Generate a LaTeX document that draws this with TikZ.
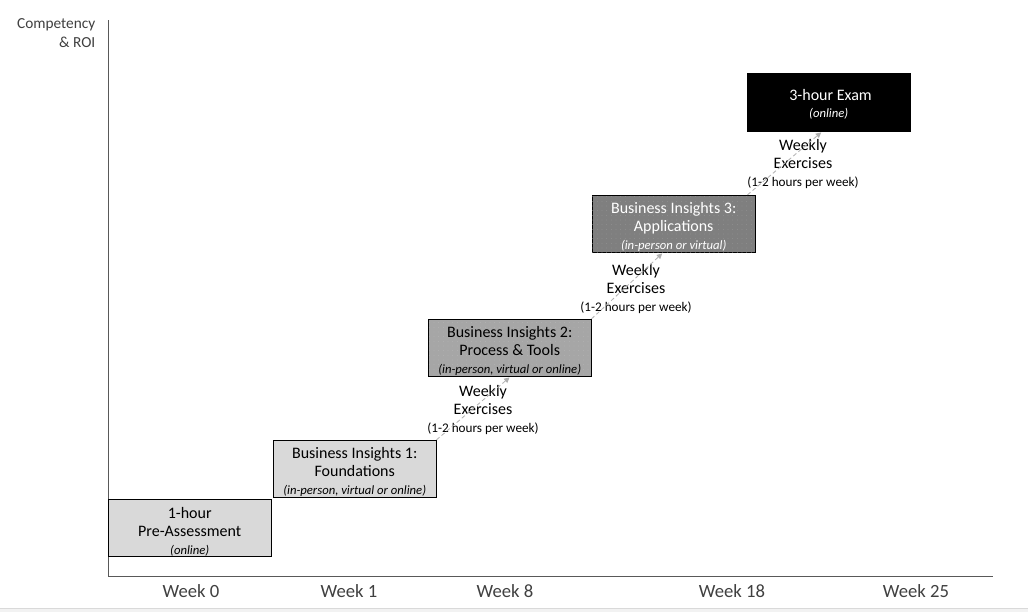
\documentclass[tikz,border=0pt]{standalone}
\usepackage{fontspec}
\setmainfont{Carlito}
\usetikzlibrary{arrows.meta,patterns.meta}

\definecolor{boxlight}{HTML}{D9D9D9}
\definecolor{boxmid}{HTML}{A6A6A6}
\definecolor{boxdark}{HTML}{7F7F7F}
\definecolor{axisgray}{HTML}{595959}
\definecolor{labelgray}{HTML}{404040}
\definecolor{arrowgray}{HTML}{B0B0B0}

\newcommand{\stagemode}[1]{{\fontsize{9.5}{13.5}\selectfont\itshape #1}}
\newcommand{\weekload}{{\fontsize{9.9}{13.5}\selectfont (1-2 hours per week)}}
\newcommand{\stagetop}[1][13.4pt]{\rule{0pt}{#1}}

\begin{document}
\begin{tikzpicture}[x=0.75pt, y=-0.75pt,
  stagebox/.style={draw=black, line width=0.6pt, minimum width=122pt,
    minimum height=43pt, anchor=south west, align=center, inner sep=0pt,
    font=\fontsize{12}{13.5}\selectfont},
  dotted fill/.style={postaction={pattern={Dots[distance=3.5pt,radius=0.3pt]},
    pattern color=#1}},
  exercise/.style={align=center, font=\fontsize{12}{13.5}\selectfont},
  weeklabel/.style={text=labelgray, font=\fontsize{14}{16}\selectfont},
  axis/.style={draw=axisgray, line width=0.75pt},
  exarrow/.style={draw=arrowgray, line width=0.6pt, dash pattern=on 3pt off 2pt,
    -{Triangle[length=4pt,width=4pt]}, shorten >=0.5pt}]
  \useasboundingbox (0,0) rectangle (1028,612);
  \fill[white] (0,0) rectangle (1028,612);
  % window edge
  \fill[gray!10] (0,608) rectangle (1028,612);
  \draw[gray!30, line width=0.75pt] (0,608) -- (1028,608);

  % axes
  \coordinate (ytop) at (108,20);
  \coordinate (origin) at (108,576);
  \coordinate (xend) at (993,576);
  \draw[axis] (ytop) -- (origin) -- (xend);
  \node[anchor=east, align=right, text=labelgray,
    font=\fontsize{11.5}{14.25}\selectfont] (ylabel) at (100,33) {Competency\\\& ROI};

  \node[weeklabel] (w0) at (191,591) {Week 0};
  \node[weeklabel] (w1) at (349,591) {Week 1};
  \node[weeklabel] (w8) at (505,591) {Week 8};
  \node[weeklabel] (w18) at (732,591) {Week 18};
  \node[weeklabel] (w25) at (916,591) {Week 25};

  % stages
  \node[stagebox, fill=boxlight] (b0) at (108,557)
    {\stagetop 1-hour\\Pre-Assessment\\\stagemode{(online)}};
  \node[stagebox, fill=boxlight] (b1) at (273,498)
    {\stagetop Business Insights 1:\\Foundations\\\stagemode{(in-person, virtual or online)}};
  \node[stagebox, fill=boxmid, dotted fill=boxmid!75!white] (b2) at (428,377)
    {\stagetop Business Insights 2:\\Process \& Tools\\\stagemode{(in-person, virtual or online)}};
  \node[stagebox, fill=boxdark, dotted fill=boxdark!75!white, text=white] (b3) at (592,253)
    {\stagetop Business Insights 3:\\Applications\\\stagemode{(in-person or virtual)}};
  \node[stagebox, fill=black, text=white, minimum height=44pt] (b4) at (747,132)
    {\stagetop[11.5pt] 3-hour Exam\\[-1pt]\stagemode{(online)}};

  % weekly exercises
  \node[exercise] (ex1) at (483,410) {Weekly\\Exercises\\\weekload};
  \node[exercise] (ex2) at (636,289) {Weekly\\Exercises\\\weekload};
  \node[exercise] (ex3) at (803,164) {Weekly\\Exercises\\\weekload};

  \draw[exarrow] (b1.north east) -- ([xshift=61.5pt]b2.south west);
  \draw[exarrow] (b2.north east) -- ([xshift=53pt]b3.south west);
  \draw[exarrow] ([xshift=-6pt]b3.north east) -- ([xshift=56pt]b4.south west);
\end{tikzpicture}
\end{document}
